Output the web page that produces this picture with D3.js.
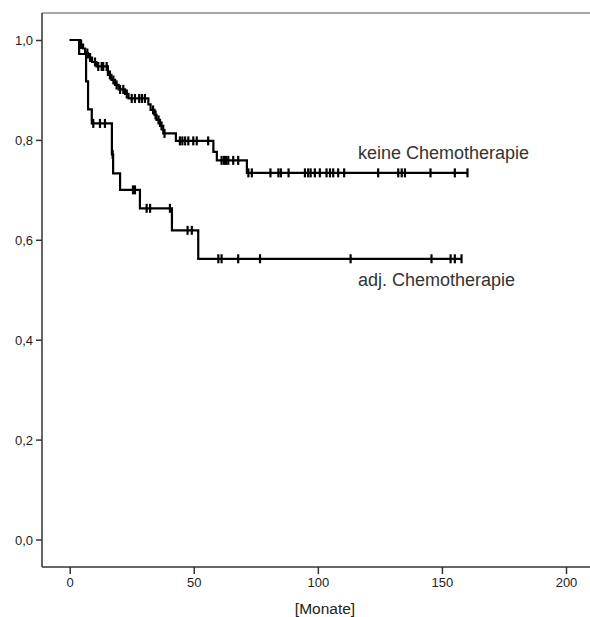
<!DOCTYPE html>
<html>
<head>
<meta charset="utf-8">
<script src="https://cdn.jsdelivr.net/npm/d3@7/dist/d3.min.js"></script>
<style>
  html, body { margin: 0; padding: 0; background: #fff; }
  svg { display: block; }
  text { font-family: "Liberation Sans", Arial, sans-serif; fill: #222; }
</style>
</head>
<body>
<svg id="chart" width="590" height="617"></svg>
<script>
// ---- Data ----
const xTicks = [0, 50, 100, 150, 200];
const yTicks = [0.0, 0.2, 0.4, 0.6, 0.8, 1.0];
const xLabel = "[Monate]";
const groupNames = ["keine Chemotherapie", "adj. Chemotherapie"];

// keine Chemotherapie: event times and survival after each step
const keineStepTimes = [4.4, 5.4, 6.2, 7.4, 9.0, 10.8, 15.4, 16.8, 18.3, 19.7, 22.3, 23.7,
  31.7, 32.6, 34.2, 35.0, 36.4, 37.7, 42.8, 57.9, 59.3, 71.4];
const keineStepSurv = [0.991, 0.983, 0.974, 0.965, 0.956, 0.947, 0.930, 0.920, 0.910, 0.901, 0.892, 0.883,
  0.871, 0.860, 0.850, 0.840, 0.828, 0.813, 0.798, 0.776, 0.759, 0.734];
const keineCensorTimes = [4.6, 7.1, 8.2, 10.2, 11.5, 12.9, 13.5, 14.9, 16.2, 17.6, 18.9, 20.3, 21.6, 23.0,
  25.0, 26.3, 28.0, 29.1, 30.3, 33.6, 34.6, 35.8, 37.0, 38.2,
  44.4, 45.4, 46.5, 47.8, 49.8, 51.2, 55.8,
  61.2, 62.2, 63.0, 63.9, 65.9, 67.9,
  72.0, 73.4, 80.9, 84.1, 85.1, 88.2, 94.8, 96.1, 97.1, 98.8, 100.8, 103.5, 104.9, 106.2, 108.2, 110.6,
  124.3, 132.4, 133.8, 135.1, 145.4, 155.2, 160.3];

// adj. Chemotherapie
const adjStepTimes = [3.8, 6.6, 7.4, 8.9, 17.0, 17.5, 20.3, 28.3, 41.2, 51.8];
const adjStepSurv = [0.972, 0.917, 0.861, 0.833, 0.771, 0.733, 0.700, 0.663, 0.619, 0.562];
const adjCensorTimes = [9.5, 12.2, 14.2, 17.3, 25.5, 26.3, 31.0, 32.4, 40.4, 47.5, 49.2,
  59.9, 61.2, 67.9, 76.7, 113.2, 145.8, 153.5, 155.2, 157.9];

// ---- Layout ----
const svg = d3.select("#chart");
const frame = { left: 42, right: 592, top: 13, bottom: 567 };
const x = d3.scaleLinear().domain([0, 200]).range([69.7, 566]);
const y = d3.scaleLinear().domain([0, 1]).range([539.5, 40]);

// frame lines
svg.append("line").attr("x1", frame.left).attr("x2", frame.right)
  .attr("y1", frame.top).attr("y2", frame.top)
  .attr("stroke", "#8a8a8a").attr("stroke-width", 1.5);

// axes
const yAxis = d3.axisLeft(y).tickValues(yTicks).tickSize(6).tickSizeOuter(0)
  .tickFormat(d => d3.format(".1f")(d).replace(".", ","));
const gy = svg.append("g").attr("transform", `translate(${frame.left},0)`).call(yAxis);
gy.select(".domain").remove();
gy.selectAll(".tick line").attr("stroke", "#333").attr("stroke-width", 1.5);
gy.selectAll(".tick text").attr("x", -9).attr("dy", "0.36em")
  .style("font-size", "13px").style("font-family", "Liberation Sans, Arial, sans-serif");

const xAxis = d3.axisBottom(x).tickValues(xTicks).tickSize(7).tickSizeOuter(0);
const gx = svg.append("g").attr("transform", `translate(0,${frame.bottom})`).call(xAxis);
gx.select(".domain").remove();
gx.selectAll(".tick line").attr("stroke", "#333").attr("stroke-width", 1.5);
gx.selectAll(".tick text").attr("y", 11).attr("dy", "0.71em")
  .style("font-size", "13px").style("font-family", "Liberation Sans, Arial, sans-serif");

svg.append("line").attr("x1", frame.left).attr("x2", frame.left)
  .attr("y1", frame.top).attr("y2", frame.bottom)
  .attr("stroke", "#333").attr("stroke-width", 1.5);
svg.append("line").attr("x1", frame.left).attr("x2", frame.right)
  .attr("y1", frame.bottom).attr("y2", frame.bottom)
  .attr("stroke", "#333").attr("stroke-width", 1.5);

svg.append("text").attr("x", 325).attr("y", 614).attr("text-anchor", "middle")
  .style("font-size", "15.5px").text(xLabel);

// ---- Curves ----
function survAt(t, times, surv) {
  let s = 1;
  for (let i = 0; i < times.length; i++) if (times[i] <= t) s = surv[i];
  return s;
}
function drawGroup(times, surv, censors) {
  const end = Math.max(d3.max(censors), d3.max(times));
  const pts = [[0, 1]].concat(times.map((t, i) => [t, surv[i]]));
  pts.push([end, survAt(end, times, surv)]);
  const line = d3.line().x(d => x(d[0])).y(d => y(d[1])).curve(d3.curveStepAfter);
  svg.append("path").attr("d", line(pts)).attr("fill", "none")
    .attr("stroke", "#000").attr("stroke-width", 2.2).attr("stroke-linejoin", "miter");
  svg.append("g").selectAll("line").data(censors).join("line")
    .attr("x1", d => x(d)).attr("x2", d => x(d))
    .attr("y1", d => y(survAt(d, times, surv)) - 4.5)
    .attr("y2", d => y(survAt(d, times, surv)) + 4.5)
    .attr("stroke", "#000").attr("stroke-width", 2.2);
}
drawGroup(adjStepTimes, adjStepSurv, adjCensorTimes);
drawGroup(keineStepTimes, keineStepSurv, keineCensorTimes);

// ---- Labels ----
svg.append("text").attr("x", 358).attr("y", 159).style("font-size", "18px").style("fill", "#333")
  .text(groupNames[0]);
svg.append("text").attr("x", 358).attr("y", 286).style("font-size", "18px").style("fill", "#333")
  .text(groupNames[1]);
</script>
</body>
</html>
